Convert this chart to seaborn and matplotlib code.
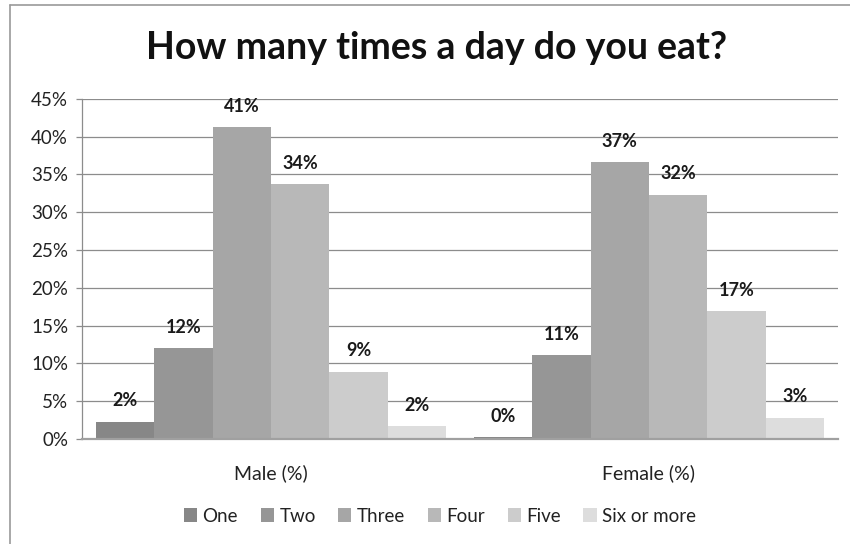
import matplotlib
matplotlib.use("Agg")
import matplotlib.pyplot as plt
import seaborn as sns
import pandas as pd
from matplotlib.lines import Line2D
from matplotlib.ticker import MultipleLocator, FuncFormatter

categories = ["Male (%)", "Female (%)"]
series = ["One", "Two", "Three", "Four", "Five", "Six or more"]
male = [2.3, 12.0, 41.2, 33.7, 8.9, 1.7]
female = [0.2, 11.1, 36.6, 32.3, 16.9, 2.8]
colors = ["#878787", "#969696", "#a6a6a6", "#b8b8b8", "#cccccc", "#dddddd"]
title = "How many times a day do you eat?"

rows = []
for s, m, f in zip(series, male, female):
    rows.append({"cat": categories[0], "series": s, "val": m})
    rows.append({"cat": categories[1], "series": s, "val": f})
df = pd.DataFrame(rows)

sns.set_theme(style="white")
plt.rcParams["font.family"] = ["Lato", "DejaVu Sans"]

fig = plt.figure(figsize=(8.5, 5.44), dpi=100)
ax = fig.add_axes([82/850, 1-439/544, (838-82)/850, (439-98.7)/544])

sns.barplot(data=df, x="cat", y="val", hue="series", order=categories,
            hue_order=series, palette=colors, width=0.926, gap=0,
            saturation=1, ax=ax, legend=True, edgecolor="none", linewidth=0)

for cont in ax.containers:
    ax.bar_label(cont, labels=[f"{round(v)}%" for v in cont.datavalues],
                 padding=9, fontsize=13, fontweight="bold", color="#1a1a1a")

ax.set_ylim(0, 45)
ax.yaxis.set_major_locator(MultipleLocator(5))
ax.yaxis.set_major_formatter(FuncFormatter(lambda v, p: f"{int(round(v))}%"))
ax.grid(axis="y", color="#8c8c8c", linewidth=0.9)
ax.set_axisbelow(True)
ax.set_xlabel("")
ax.set_ylabel("")
for side in ["top", "right"]:
    ax.spines[side].set_visible(False)
ax.spines["left"].set_color("#8c8c8c")
ax.spines["left"].set_linewidth(0.9)
ax.spines["bottom"].set_color("#a0a0a0")
ax.spines["bottom"].set_linewidth(1.6)
ax.tick_params(axis="y", which="major", left=True, length=4, width=0.9,
               color="#8c8c8c", labelsize=13.5, labelcolor="#222222", pad=6)
ax.tick_params(axis="x", bottom=False, labelsize=14, labelcolor="#222222", pad=12)

handles, labels = ax.get_legend_handles_labels()
ax.legend(handles, labels, loc="center", bbox_to_anchor=(440/850, 1-516/544),
          bbox_transform=fig.transFigure, ncol=6, frameon=False, fontsize=13.5,
          handlelength=0.7, handleheight=0.7, handletextpad=0.3,
          columnspacing=1.2, labelcolor="#222222")

fig.text(437/850, 1-48/544, title, ha="center", va="center", fontsize=27,
         fontweight="bold", color="#111111")

fig.add_artist(Line2D([10/850, 10/850], [0, 1-5/544], transform=fig.transFigure,
                      color="#9a9a9a", linewidth=1.2))
fig.add_artist(Line2D([10/850, 1], [1-5/544, 1-5/544], transform=fig.transFigure,
                      color="#9a9a9a", linewidth=1.2))

fig.savefig("out.png", dpi=100)
